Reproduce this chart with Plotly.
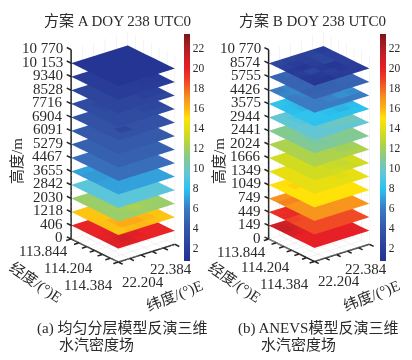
import plotly.graph_objects as go
import numpy as np

W, H = 412, 360
LON_TICKS = [113.844, 113.934, 114.024, 114.114, 114.204, 114.294, 114.384]
LAT_TICKS = [22.204, 22.240, 22.276, 22.312, 22.348, 22.384]
LON_LABELED = [113.844, 114.204, 114.384]
LAT_LABELED = [22.204, 22.384]
HEIGHTS_A = ["0","406","1218","2030","2842","3655","4467","5279","6091","6904","7716","8528","9340","10 153","10 770"]
HEIGHTS_B = ["0","149","449","749","1049","1349","1666","2024","2441","2944","3575","4426","5755","8574","10 770"]
CBAR_TICKS = [2,4,6,8,10,12,14,16,18,20,22]
LON_LABEL_TEXT = ["113.844","114.204","114.384"]
LAT_LABEL_TEXT = ["22.204","22.384"]

# each layer: rows = longitude cells, columns = latitude cells (bottom layer first)
LAYERS_A = [
 [[19.8,19.8,19.8,19.8,19.8],[19.8,19.8,19.8,19.8,19.8],[19.8,20.0,19.8,19.8,19.8],[20.0,20.4,20.0,19.8,19.8],[20.4,20.8,20.2,19.8,19.8],[20.2,20.4,19.9,19.8,19.8]],
 [[15.6,15.6,15.6,15.6,15.6],[15.6,15.6,15.6,15.6,15.6],[15.6,15.6,15.7,15.6,15.6],[15.7,16.0,16.1,15.8,15.6],[15.7,16.2,16.3,15.9,15.6],[15.6,15.8,15.9,15.7,15.6]],
 [[11.7]*5,[11.7]*5,[11.7]*5,[11.7,11.8,12.0,11.8,11.7],[11.7,11.9,12.2,11.9,11.7],[11.7,11.7,11.8,11.7,11.7]],
 [[9.3]*5,[9.3]*5,[9.3]*5,[9.3]*5,[9.3]*5,[9.3]*5],
 [[7.0,7.1,7.0,7.0,7.0],[6.8,6.8,7.0,7.0,7.0],[6.8,6.8,7.0,7.0,7.0],[7.0,7.0,7.0,7.0,7.0],[7.0,7.0,7.0,7.0,7.0],[7.0,7.0,7.0,7.0,7.0]],
 [[5.3,5.3,5.3,5.3,5.3],[5.3,5.3,5.3,5.3,5.3],[5.3,5.3,5.3,5.3,5.3],[5.3,5.3,5.3,5.3,5.3],[5.3,5.3,5.3,5.3,5.3],[5.3,5.3,5.3,5.3,5.3]],
 [[4.6]*5,[4.6]*5,[4.6]*5,[4.6]*5,[4.6]*5,[4.6]*5],
 [[4.2]*5,[4.2]*5,[4.2]*5,[4.2]*5,[4.2]*5,[4.2]*5],
 [[3.6,3.6,3.6,3.6,3.6],[3.6,3.6,3.6,3.6,3.6],[3.6,3.6,3.6,3.6,3.6],[3.6,3.6,3.6,3.6,3.6],[3.6,2.6,3.6,3.6,3.6],[3.6,3.6,3.6,3.6,3.6]],
 [[3.1,3.1,3.1,3.1,3.1],[3.1,2.6,2.3,2.6,3.1],[3.1,2.8,3.1,3.1,3.1],[3.1,3.1,3.1,3.1,2.6],[3.1,3.1,3.1,2.6,2.6],[3.1,3.1,3.1,3.1,3.1]],
 [[2.5,2.5,2.5,2.5,2.5],[2.5,2.5,2.5,2.5,2.5],[2.5,2.5,2.5,2.5,2.5],[2.5,2.5,2.5,2.5,2.2],[2.5,2.5,2.5,2.2,2.2],[2.5,2.5,2.5,2.5,2.5]],
 [[1.9,1.9,1.9,1.9,1.9],[1.9,1.9,1.9,1.9,1.9],[1.9,1.9,1.9,1.9,1.9],[1.9,1.9,1.9,1.9,1.6],[1.9,1.9,1.9,1.6,1.6],[1.9,1.9,1.9,1.9,1.9]],
 [[1.2]*5,[1.2]*5,[1.2]*5,[1.2]*5,[1.2]*5,[1.2]*5],
]
LAYERS_B = [
 [[21.0,20.8,20.2,20.0,20.0],[21.2,20.8,20.2,20.0,20.0],[20.6,20.2,20.0,20.0,20.0],[20.0,20.0,20.0,20.0,20.0],[20.0,20.0,20.0,20.0,20.0],[20.0,20.0,20.0,20.0,20.0]],
 [[19.4,19.6,18.8,18.6,18.6],[19.6,19.6,18.8,18.6,18.6],[18.8,18.6,18.6,18.6,18.6],[18.6,18.6,18.6,18.6,18.6],[18.6,18.6,18.6,18.6,18.6],[18.6,18.6,18.6,18.6,18.6]],
 [[17.0,17.0,16.9,16.9,16.9],[17.3,17.3,16.9,16.9,16.9],[16.9,16.9,16.9,16.9,16.9],[16.9,16.9,16.9,16.9,16.9],[16.9,16.9,16.9,16.9,16.9],[16.9,16.9,16.9,16.9,16.9]],
 [[15.1]*5,[15.0,15.4,15.0,15.0,15.0],[15.0]*5,[15.0]*5,[15.0]*5,[15.0]*5],
 [[14.2,14.2,14.2,14.2,14.2],[14.2,14.2,14.2,14.2,14.2],[14.2,14.2,14.2,14.2,14.2],[14.2,14.2,13.8,13.6,14.2],[14.2,14.2,14.2,13.8,14.2],[14.2,14.2,14.2,14.2,14.2]],
 [[13.4,13.4,13.4,13.4,13.4],[13.4,13.4,13.4,13.4,13.4],[13.4,13.4,13.4,13.4,13.4],[13.4,13.4,13.4,13.4,13.4],[13.4,13.4,13.2,13.0,13.4],[13.4,13.4,13.4,13.2,13.4]],
 [[12.3]*5,[12.3]*5,[12.3]*5,[12.3,12.3,12.3,12.0,11.8],[12.3,12.3,12.3,12.0,12.0],[12.3]*5],
 [[11.0,11.0,10.9,10.9,10.9],[11.0,10.9,10.9,10.9,10.9],[10.9,10.7,10.7,10.9,11.2],[10.9,10.6,10.7,11.0,11.3],[10.9,10.6,10.8,11.0,11.0],[10.9,10.9,10.9,10.9,10.9]],
 [[9.6,9.4,9.4,9.6,9.6],[9.4,9.0,9.2,9.6,9.6],[9.4,9.2,9.4,9.6,10.0],[9.6,9.6,9.6,10.0,10.3],[9.6,9.6,9.8,10.0,10.0],[9.6,9.6,9.6,9.6,9.6]],
 [[8.2,7.9,7.6,7.9,8.2],[7.9,7.7,7.5,7.9,8.1],[7.9,7.5,7.7,7.5,8.1],[8.1,8.1,8.0,7.7,7.5],[8.1,8.1,7.8,7.5,7.8],[8.0,8.0,8.0,8.0,8.0]],
 [[6.0,6.3,6.3,6.0,6.0],[6.3,6.4,6.6,6.0,6.0],[6.0,6.2,6.0,6.4,6.0],[6.0,6.0,6.0,6.4,6.8],[6.0,6.0,6.2,6.6,6.4],[6.0,6.0,6.0,6.0,6.0]],
 [[4.8,4.9,4.8,4.6,4.6],[4.7,4.7,5.0,4.8,4.6],[4.7,4.7,4.7,4.9,4.8],[4.8,4.8,4.7,4.8,5.0],[4.6,4.6,4.6,4.8,4.8],[4.7,4.7,4.7,4.7,4.7]],
 [[2.6,2.4,2.2,2.4,1.8],[2.2,1.8,2.2,2.6,2.2],[1.6,1.4,2.0,2.6,2.2],[2.0,2.6,1.6,1.4,2.2],[1.5,1.6,2.2,1.5,2.0],[1.3,1.3,1.8,2.0,1.8]],
]

CSCALE_VALUES = [0.7,4,6,7.4,8,9.5,11,12,13.5,15,16,17,18,19,20,21,22.5,23.4]
CSCALE_COLORS = ["#23308f","#3556a9","#3a7cc4","#2fb0e6","#2cc3ef","#63c6d6","#84ca8f","#a3d05a","#d5dd1c","#ffe208","#fcb216","#f7931e","#f26522","#ee3a25","#e71f26","#cf1f26","#a01c20","#7d1416"]
CMIN, CMAX = 0.7, 23.4
colorscale = [[(v-CMIN)/(CMAX-CMIN), c] for v, c in zip(CSCALE_VALUES, CSCALE_COLORS)]

FONT = "Liberation Serif, Noto Sans CJK SC, serif"
TXT = "#2a2a2a"
EYE = 2.0
ASPECT_XY = 0.49*1.10
ASPECT_Z = 0.49*1.06
PAD = 1.2   # range padding so the tick marks are not clipped
LON_TICK_LEN = 0.05
LAT_TICK_LEN = 0.016
Z_TICK_LEN = 0.05

lon0, lon1 = LON_TICKS[0], LON_TICKS[-1]
lat0, lat1 = LAT_TICKS[0], LAT_TICKS[-1]

def px(x, y):
    return x/W, 1-y/H

def scene(dom, labels, xy_scale=1.0):
    anns = []
    for z, t in enumerate(labels):
        anns.append(dict(x=lon0, y=lat0, z=z, text=t, showarrow=False, xanchor="right",
                         xshift=-6, yshift=1, font=dict(size=15, family=FONT, color=TXT)))
    offs = [(-1,-13),(-7,-14),(-3,-23)]
    for v, t, o in zip(LON_LABELED, LON_LABEL_TEXT, offs):
        anns.append(dict(x=v, y=lat0, z=0, text=t, showarrow=False, xanchor="right", xshift=o[0], yshift=o[1],
                         font=dict(size=15, family=FONT, color=TXT)))
    offs = [(2,-20),(20,-25)]
    for v, t, o in zip(LAT_LABELED, LAT_LABEL_TEXT, offs):
        anns.append(dict(x=lon1, y=v, z=0, text=t, showarrow=False,
                         xanchor="left" if o[0] < 5 else "right", xshift=o[0], yshift=o[1],
                         font=dict(size=15, family=FONT, color=TXT)))
    axis = dict(title=dict(text=""), showbackground=False, showticklabels=False, showspikes=False, zeroline=False,
                showgrid=False, showline=False, ticks="")
    lon_pad = (lon1-lon0)*(PAD-1)/2
    lat_pad = (lat1-lat0)*(PAD-1)/2
    return dict(
        domain=dict(x=[dom[0]/W, dom[1]/W], y=[1-dom[3]/H, 1-dom[2]/H]),
        xaxis=dict(axis, range=[lon0-lon_pad, lon1+lon_pad]),
        yaxis=dict(axis, range=[lat0-lat_pad, lat1+lat_pad]),
        zaxis=dict(axis, range=[0, len(labels)-1]),
        aspectmode="manual", aspectratio=dict(x=PAD*ASPECT_XY*xy_scale, y=PAD*0.96*ASPECT_XY*xy_scale, z=2.83*ASPECT_Z),
        camera=dict(projection=dict(type="orthographic"), up=dict(x=0,y=0,z=1), center=dict(x=0,y=0,z=0),
                    eye=dict(x=0.718*EYE, y=-0.575*EYE, z=0.392*EYE)),
        annotations=anns, bgcolor="white",
    )

def layer_mesh(cells, level, sc, ca):
    nx, ny = len(LON_TICKS), len(LAT_TICKS)
    xs, ys = np.meshgrid(LON_TICKS, LAT_TICKS, indexing="ij")
    idx = lambda a, b: a*ny + b
    I, J, K, V = [], [], [], []
    for a in range(nx-1):
        for b in range(ny-1):
            v = cells[a][b]
            I += [idx(a,b), idx(a+1,b)]
            J += [idx(a+1,b), idx(a+1,b+1)]
            K += [idx(a,b+1), idx(a,b+1)]
            V += [v, v]
    return go.Mesh3d(x=xs.ravel(), y=ys.ravel(), z=np.full(xs.size, float(level)), i=I, j=J, k=K,
                     intensity=V, intensitymode="cell", coloraxis=ca, scene=sc, flatshading=True,
                     lighting=dict(ambient=1, diffuse=0, specular=0, roughness=1, fresnel=0),
                     hoverinfo="skip")

def segs(pairs):
    xs, ys, zs = [], [], []
    for a, b in pairs:
        xs += [a[0], b[0], None]; ys += [a[1], b[1], None]; zs += [a[2], b[2], None]
    return xs, ys, zs

def line_trace(pairs, sc, color, width):
    xs, ys, zs = segs(pairs)
    return go.Scatter3d(x=xs, y=ys, z=zs, mode="lines", line=dict(color=color, width=width), scene=sc, hoverinfo="skip")

def frame(sc, ztop):
    grid = []
    for v in LON_TICKS:
        grid.append(((v, lat0, 0), (v, lat1, 0)))
        grid.append(((v, lat1, 0), (v, lat1, ztop)))
    for v in LAT_TICKS:
        grid.append(((lon0, v, 0), (lon1, v, 0)))
        grid.append(((lon0, v, 0), (lon0, v, ztop)))
    axes = [((lon0, lat0, 0), (lon1, lat0, 0)), ((lon1, lat0, 0), (lon1, lat1, 0)), ((lon0, lat0, 0), (lon0, lat0, ztop))]
    ticks = []
    for v in LON_TICKS:
        ticks.append(((v, lat0, 0), (v, lat0-LAT_TICK_LEN, 0)))
    for v in LAT_TICKS:
        ticks.append(((lon1, v, 0), (lon1+LON_TICK_LEN, v, 0)))
    for z in range(ztop+1):
        ticks.append(((lon0, lat0, z), (lon0-Z_TICK_LEN, lat0, z)))
    return [line_trace(grid, sc, "#e9e9e9", 1), line_trace(axes, sc, "#222222", 3), line_trace(ticks, sc, "#222222", 3)]

fig = go.Figure()
for layers, labels, sc, ca in [(LAYERS_A,HEIGHTS_A,"scene","coloraxis"),(LAYERS_B,HEIGHTS_B,"scene2","coloraxis2")]:
    for t in frame(sc, len(labels)-1):
        fig.add_trace(t)
    for k, cells in enumerate(layers):
        fig.add_trace(layer_mesh(cells, k+1, sc, ca))

def cbar(xp):
    return dict(cmin=CMIN, cmax=CMAX, colorscale=colorscale,
        colorbar=dict(x=xp/W, xanchor="left", y=1-34/H, yanchor="top", len=227/H, lenmode="fraction",
                      thickness=6, thicknessmode="pixels", xpad=0, ypad=0, outlinewidth=0,
                      tickvals=CBAR_TICKS, ticks="", tickfont=dict(size=11.5, family=FONT, color=TXT)))

anns = []
def text(x, y, t, size=14, angle=0, xanchor="center"):
    ax, ay = px(x, y)
    anns.append(dict(x=ax, y=ay, xref="paper", yref="paper", text=t, showarrow=False, textangle=angle, xanchor=xanchor,
                     yanchor="middle", font=dict(size=size, family=FONT, color=TXT)))
text(117, 20, "方案 A DOY 238 UTC0", 15)
text(312, 20, "方案 B DOY 238 UTC0", 15)
text(17, 161, "高度/m", 15, -90)
text(219, 161, "高度/m", 15, -90)
text(35, 282, "经度/(°)E", 15, 34)
text(174, 296, "纬度/(°)E", 15, -22)
text(234, 282, "经度/(°)E", 15, 34)
text(371, 296, "纬度/(°)E", 15, -22)
text(35, 328, "(a) 均匀分层模型反演三维", 15, 0, "left")
text(57, 345, "水汽密度场", 15, 0, "left")
text(236, 328, "(b) ANEVS模型反演三维", 15, 0, "left")
text(259, 345, "水汽密度场", 15, 0, "left")

fig.update_layout(width=W, height=H, margin=dict(l=0,r=0,t=0,b=0), paper_bgcolor="white", showlegend=False,
    scene=scene((22.5,222.5,6.5,286.5), HEIGHTS_A),
    scene2=scene((227,411,6.5,286.5), HEIGHTS_B, 0.97),
    coloraxis=cbar(184), coloraxis2=cbar(380), annotations=anns)
fig.write_html("out.html", config={"displayModeBar": False},
               post_script="document.body.style.margin='0';document.body.style.overflow='hidden';")
